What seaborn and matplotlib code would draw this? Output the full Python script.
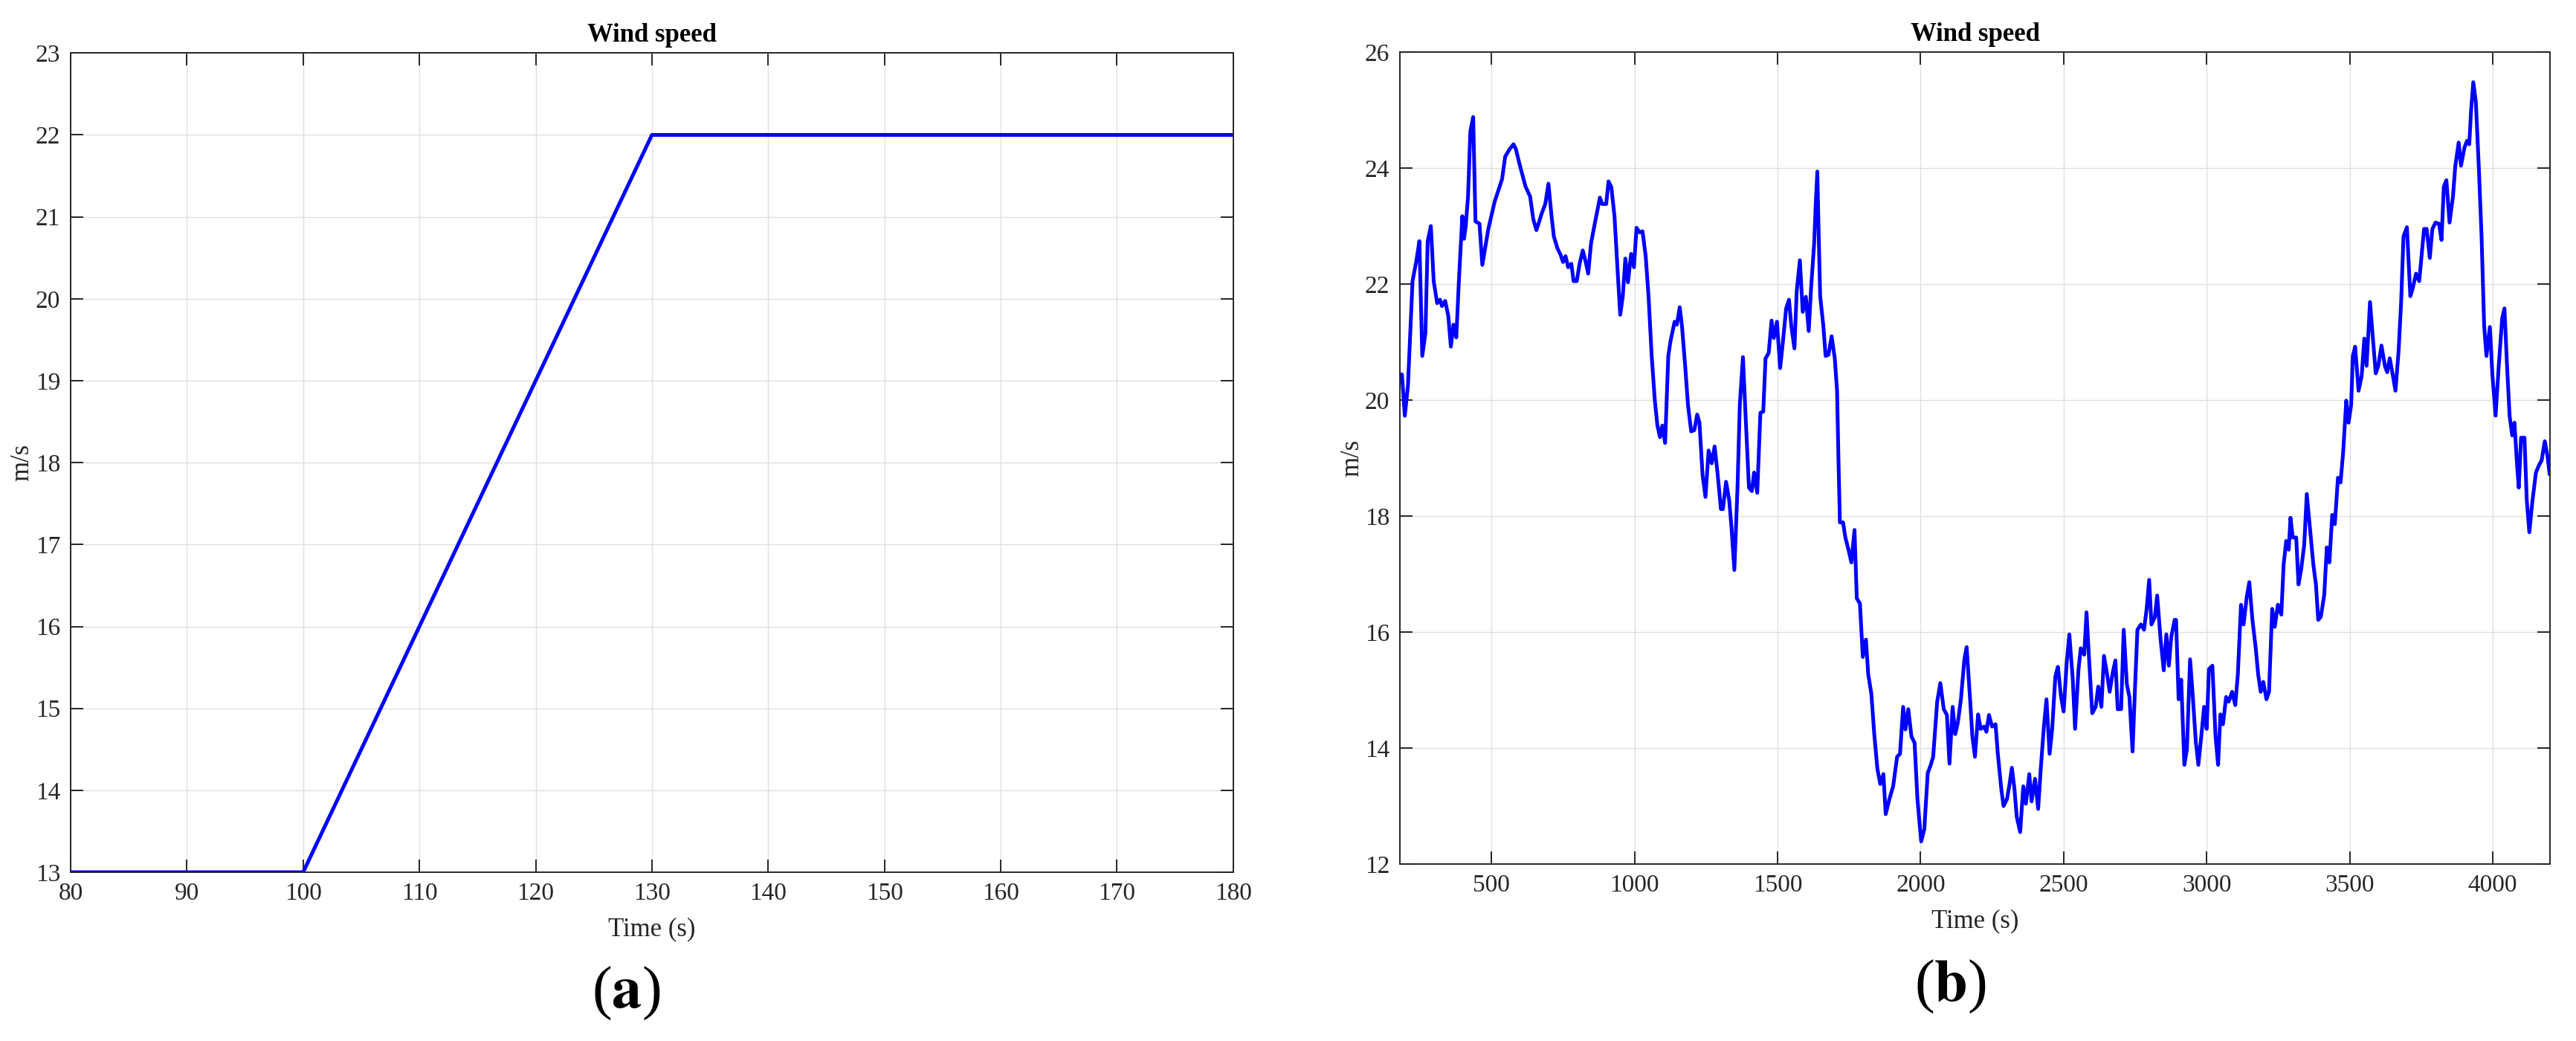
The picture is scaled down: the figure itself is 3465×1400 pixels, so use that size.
import pandas as pd
import seaborn as sns
import matplotlib.pyplot as plt

# (a) ramp de vento
tempo_a = [80, 100, 130, 180]
vento_a = [13, 13, 22, 22]

# (b) vento turbulento
tempo_b = [178, 187, 197, 208, 224, 237, 248, 258, 269, 277, 288, 298, 310, 320, 327, 338, 349, 358, 367, 377,
           386, 398, 404, 410, 418, 426, 436, 444, 458, 468, 489, 511, 537, 548, 564, 577, 585, 598, 619, 635,
           646, 657, 667, 675, 688, 699, 710, 718, 731, 742, 750, 759, 768, 779, 787, 798, 808, 819, 829, 838,
           848, 861, 879, 887, 901, 909, 919, 930, 941, 950, 959, 968, 977, 988, 998, 1007, 1018, 1028, 1039, 1049,
           1060, 1071, 1080, 1089, 1097, 1107, 1118, 1126, 1140, 1148, 1158, 1166, 1177, 1187, 1198, 1209, 1219, 1227, 1238, 1248,
           1259, 1270, 1280, 1291, 1302, 1309, 1320, 1331, 1339, 1349, 1360, 1368, 1379, 1389, 1400, 1410, 1418, 1429, 1440, 1450,
           1458, 1469, 1479, 1487, 1498, 1509, 1519, 1530, 1540, 1548, 1559, 1567, 1578, 1588, 1599, 1609, 1617, 1628, 1633, 1639,
           1644, 1649, 1660, 1668, 1678, 1689, 1700, 1708, 1713, 1718, 1729, 1737, 1748, 1758, 1769, 1777, 1788, 1798, 1809, 1817,
           1828, 1838, 1849, 1859, 1870, 1878, 1891, 1904, 1918, 1928, 1939, 1947, 1957, 1968, 1979, 1989, 2002, 2013, 2025, 2035,
           2044, 2058, 2069, 2081, 2092, 2101, 2112, 2121, 2130, 2141, 2153, 2161, 2173, 2181, 2190, 2201, 2210, 2222, 2230, 2239,
           2250, 2262, 2270, 2282, 2290, 2302, 2311, 2319, 2328, 2336, 2348, 2359, 2368, 2380, 2388, 2400, 2411, 2420, 2431, 2440,
           2451, 2460, 2471, 2480, 2491, 2500, 2511, 2520, 2532, 2540, 2552, 2560, 2572, 2580, 2589, 2600, 2612, 2621, 2632, 2641,
           2652, 2661, 2672, 2681, 2689, 2701, 2710, 2721, 2730, 2741, 2750, 2758, 2770, 2781, 2790, 2799, 2807, 2819, 2827, 2839,
           2850, 2859, 2868, 2876, 2888, 2893, 2902, 2911, 2922, 2931, 2942, 2951, 2962, 2971, 2982, 2991, 3000, 3008, 3020, 3031,
           3040, 3048, 3057, 3068, 3077, 3089, 3100, 3109, 3120, 3129, 3140, 3149, 3160, 3172, 3180, 3189, 3198, 3209, 3218, 3229,
           3238, 3249, 3261, 3269, 3278, 3287, 3293, 3301, 3313, 3321, 3330, 3341, 3350, 3361, 3373, 3382, 3390, 3399, 3411, 3420,
           3429, 3439, 3448, 3459, 3468, 3477, 3488, 3496, 3505, 3511, 3519, 3531, 3542, 3551, 3559, 3571, 3579, 3591, 3600, 3611,
           3623, 3631, 3640, 3651, 3660, 3671, 3680, 3688, 3700, 3712, 3720, 3732, 3743, 3752, 3760, 3769, 3780, 3789, 3800, 3812,
           3821, 3829, 3838, 3849, 3861, 3869, 3881, 3889, 3901, 3910, 3918, 3924, 3932, 3941, 3952, 3961, 3970, 3978, 3990, 3999,
           4010, 4021, 4033, 4041, 4050, 4059, 4068, 4076, 4085, 4091, 4099, 4111, 4119, 4128, 4139, 4151, 4162, 4171, 4182, 4191,
           4199]
vento_b = [20.45, 20.44, 19.73, 20.25, 22.05, 22.39, 22.74, 20.76, 21.15, 22.74, 23.00, 22.05, 21.67, 21.73, 21.62, 21.71, 21.45, 20.92, 21.30, 21.08,
           22.05, 23.17, 22.78, 23.00, 23.51, 24.63, 24.88, 23.08, 23.04, 22.33, 22.95, 23.42, 23.81, 24.20, 24.33, 24.41, 24.33, 24.07, 23.68, 23.51,
           23.12, 22.93, 23.08, 23.21, 23.38, 23.73, 23.17, 22.82, 22.61, 22.50, 22.38, 22.48, 22.29, 22.35, 22.05, 22.05, 22.35, 22.58, 22.39, 22.18,
           22.70, 23.04, 23.49, 23.38, 23.38, 23.77, 23.67, 23.17, 22.22, 21.47, 21.79, 22.44, 22.03, 22.52, 22.29, 22.97, 22.89, 22.91, 22.48, 21.79,
           20.76, 19.99, 19.56, 19.36, 19.56, 19.26, 20.76, 21.02, 21.35, 21.30, 21.60, 21.27, 20.59, 19.91, 19.46, 19.48, 19.75, 19.61, 18.70, 18.33,
           19.13, 18.91, 19.20, 18.70, 18.12, 18.12, 18.59, 18.27, 17.80, 17.07, 18.49, 19.91, 20.74, 19.65, 18.49, 18.43, 18.75, 18.40, 19.78, 19.80,
           20.72, 20.81, 21.37, 21.07, 21.35, 20.55, 21.02, 21.58, 21.73, 21.28, 20.89, 21.88, 22.41, 21.52, 21.78, 21.19, 21.92, 22.70, 23.34, 23.94,
           22.82, 21.79, 21.28, 20.76, 20.78, 21.10, 20.72, 20.16, 18.96, 17.89, 17.89, 17.63, 17.42, 17.20, 17.76, 16.58, 16.49, 15.57, 15.87, 15.27,
           14.93, 14.24, 13.64, 13.38, 13.55, 12.86, 13.12, 13.34, 13.85, 13.90, 14.71, 14.32, 14.67, 14.20, 14.09, 13.12, 12.39, 12.60, 13.57, 13.70,
           13.85, 14.80, 15.12, 14.67, 14.57, 13.73, 14.71, 14.24, 14.43, 14.84, 15.53, 15.74, 14.84, 14.20, 13.85, 14.58, 14.33, 14.37, 14.28, 14.57,
           14.37, 14.41, 13.90, 13.30, 13.00, 13.12, 13.38, 13.66, 13.30, 12.82, 12.55, 13.34, 13.04, 13.55, 13.08, 13.47, 12.95, 13.64, 14.37, 14.84,
           13.90, 14.33, 15.23, 15.40, 14.88, 14.63, 15.49, 15.96, 15.18, 14.33, 15.36, 15.72, 15.61, 16.34, 15.53, 14.60, 14.71, 15.06, 14.71, 15.59,
           15.27, 14.97, 15.31, 15.51, 14.67, 14.67, 16.04, 15.10, 14.88, 13.94, 15.10, 16.04, 16.13, 16.04, 16.39, 16.90, 16.13, 16.26, 16.63, 15.87,
           15.34, 15.96, 15.42, 15.91, 16.21, 16.21, 14.84, 15.18, 13.71, 13.98, 15.53, 14.93, 14.11, 13.71, 14.24, 14.71, 14.33, 15.36, 15.42, 14.20,
           13.71, 14.58, 14.41, 14.88, 14.80, 14.97, 14.74, 15.27, 16.47, 16.13, 16.60, 16.86, 16.21, 15.70, 15.27, 14.97, 15.14, 14.84, 14.97, 16.40,
           16.09, 16.47, 16.30, 17.16, 17.57, 17.42, 17.97, 17.63, 17.63, 16.82, 17.07, 17.50, 18.38, 17.80, 17.16, 16.82, 16.21, 16.26, 16.64, 17.46,
           17.20, 18.02, 17.86, 18.66, 18.58, 19.09, 19.99, 19.61, 19.91, 20.76, 20.92, 20.16, 20.42, 21.06, 20.59, 21.69, 21.19, 20.46, 20.59, 20.94,
           20.59, 20.48, 20.72, 20.42, 20.16, 20.85, 21.71, 22.82, 22.98, 21.79, 21.92, 22.18, 22.05, 22.52, 22.95, 22.95, 22.45, 22.95, 23.06, 23.04,
           22.76, 23.68, 23.79, 23.06, 23.51, 24.03, 24.44, 24.04, 24.35, 24.47, 24.41, 24.97, 25.48, 25.14, 23.94, 22.82, 21.28, 20.76, 21.26, 20.42,
           19.73, 20.59, 21.41, 21.58, 20.59, 19.73, 19.39, 19.61, 18.88, 18.49, 19.35, 19.35, 18.27, 17.72, 18.27, 18.75, 18.88, 18.96, 19.29, 19.05,
           18.72]

df_a = pd.DataFrame({'tempo': tempo_a, 'vento': vento_a})
df_b = pd.DataFrame({'tempo': tempo_b, 'vento': vento_b})

sns.set_style('ticks')
plt.rcParams['font.family'] = ['Liberation Serif', 'DejaVu Serif']
plt.rcParams['mathtext.fontset'] = 'stix'

cinza = '#262626'
fig = plt.figure(figsize=(34.66, 14), dpi=100)
ax1 = fig.add_axes([0.0274, 0.1621, 0.4512, 0.787])
ax2 = fig.add_axes([0.5433, 0.170, 0.4463, 0.780])

sns.lineplot(data=df_a, x='tempo', y='vento', ax=ax1, color='#0000ff', linewidth=3.6, estimator=None)
sns.lineplot(data=df_b, x='tempo', y='vento', ax=ax2, color='#0000ff', linewidth=3.6, estimator=None, sort=False)

ax1.set_xlim(80, 180)
ax1.set_ylim(13, 23)
ax1.set_xticks(range(80, 181, 10))
ax1.set_yticks(range(13, 24))

ax2.set_xlim(180, 4200)
ax2.set_ylim(12, 26)
ax2.set_xticks(range(500, 4001, 500))
ax2.set_yticks(range(12, 27, 2))

for ax in [ax1, ax2]:
    ax.grid(True, color='#e0e0e0', linewidth=1)
    ax.set_axisbelow(True)
    for lado in ax.spines.values():
        lado.set_visible(True)
        lado.set_color(cinza)
        lado.set_linewidth(1.4)
    ax.tick_params(direction='in', length=12, width=1.4, color=cinza, labelcolor=cinza,
                   labelsize=24, top=True, right=True, pad=10)
    ax.set_title('Wind speed', fontsize=25, fontweight='bold', pad=11, color='black')
    ax.set_xlabel('Time (s)', fontsize=25, color=cinza)
    ax.set_ylabel('m/s', fontsize=25, color=cinza)
    ax.xaxis.set_label_coords(0.5, -0.055)
    ax.yaxis.set_label_coords(-0.031, 0.5)

fig.text(0.243, 0.046, r'($\mathbf{a}$)', fontsize=58, ha='center', va='center', color='black')
fig.text(0.757, 0.052, r'($\mathbf{b}$)', fontsize=58, ha='center', va='center', color='black')

fig.savefig('out.png', dpi=100, facecolor='white')
